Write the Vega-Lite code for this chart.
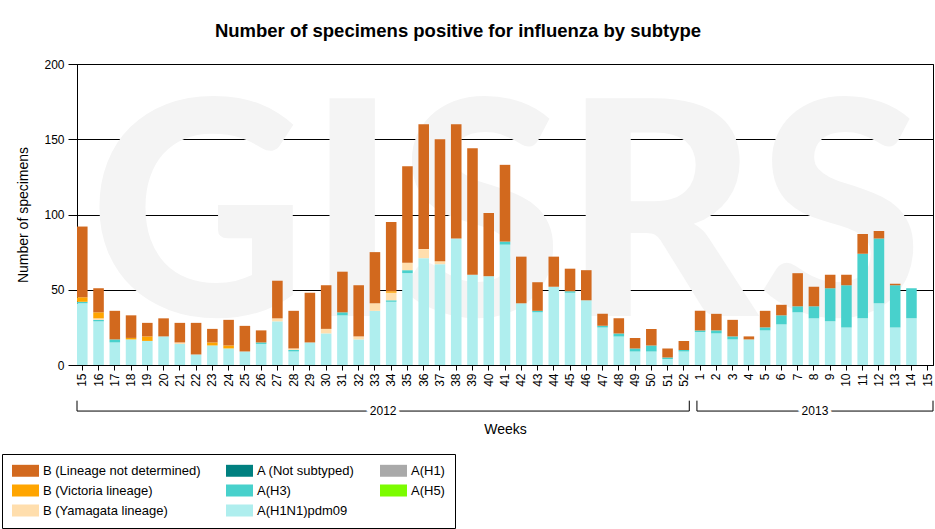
{
  "$schema": "https://vega.github.io/schema/vega-lite/v6.json",
  "autosize": "none",
  "padding": {"left": 77, "top": 64, "right": 2, "bottom": 164},
  "width": 856,
  "height": 301,
  "title": {
    "text": "Number of specimens positive for influenza by subtype",
    "font": "Arial, Liberation Sans",
    "fontSize": 18.5,
    "fontWeight": "bold",
    "color": "black",
    "baseline": "alphabetic",
    "offset": 2.5,
    "dx": -47
  },
  "config": {
    "font": "Arial, Liberation Sans",
    "view": {"stroke": "black", "strokeWidth": 1},
    "axis": {
      "labelColor": "black",
      "tickColor": "black",
      "domainColor": "black",
      "titleColor": "black",
      "titleFontWeight": "normal",
      "labelFontSize": 12
    }
  },
  "datasets": {
    "weeks": [
      {"wk": "2012-15", "a_pdm": 41, "b_h3": 1, "c_yam": 0, "d_vic": 3, "e_nd": 47},
      {"wk": "2012-16", "a_pdm": 29, "b_h3": 1, "c_yam": 1, "d_vic": 4, "e_nd": 16},
      {"wk": "2012-17", "a_pdm": 15, "b_h3": 2, "c_yam": 0, "d_vic": 0, "e_nd": 19},
      {"wk": "2012-18", "a_pdm": 17, "b_h3": 0, "c_yam": 0, "d_vic": 1, "e_nd": 15},
      {"wk": "2012-19", "a_pdm": 16, "b_h3": 0, "c_yam": 0, "d_vic": 3, "e_nd": 9},
      {"wk": "2012-20", "a_pdm": 19, "b_h3": 0, "c_yam": 0, "d_vic": 0, "e_nd": 12},
      {"wk": "2012-21", "a_pdm": 14, "b_h3": 0, "c_yam": 1, "d_vic": 0, "e_nd": 13},
      {"wk": "2012-22", "a_pdm": 7, "b_h3": 0, "c_yam": 0, "d_vic": 0, "e_nd": 21},
      {"wk": "2012-23", "a_pdm": 13, "b_h3": 0, "c_yam": 0, "d_vic": 2, "e_nd": 9},
      {"wk": "2012-24", "a_pdm": 11, "b_h3": 0, "c_yam": 0, "d_vic": 2, "e_nd": 17},
      {"wk": "2012-25", "a_pdm": 9, "b_h3": 0, "c_yam": 0, "d_vic": 0, "e_nd": 17},
      {"wk": "2012-26", "a_pdm": 14, "b_h3": 1, "c_yam": 0, "d_vic": 0, "e_nd": 8},
      {"wk": "2012-27", "a_pdm": 29, "b_h3": 0, "c_yam": 2, "d_vic": 0, "e_nd": 25},
      {"wk": "2012-28", "a_pdm": 9, "b_h3": 1, "c_yam": 1, "d_vic": 0, "e_nd": 25},
      {"wk": "2012-29", "a_pdm": 15, "b_h3": 0, "c_yam": 0, "d_vic": 0, "e_nd": 33},
      {"wk": "2012-30", "a_pdm": 21, "b_h3": 0, "c_yam": 3, "d_vic": 0, "e_nd": 29},
      {"wk": "2012-31", "a_pdm": 33, "b_h3": 2, "c_yam": 0, "d_vic": 0, "e_nd": 27},
      {"wk": "2012-32", "a_pdm": 17, "b_h3": 0, "c_yam": 2, "d_vic": 0, "e_nd": 34},
      {"wk": "2012-33", "a_pdm": 36, "b_h3": 0, "c_yam": 5, "d_vic": 0, "e_nd": 34},
      {"wk": "2012-34", "a_pdm": 42, "b_h3": 1, "c_yam": 5, "d_vic": 1, "e_nd": 46},
      {"wk": "2012-35", "a_pdm": 61, "b_h3": 2, "c_yam": 5, "d_vic": 0, "e_nd": 64},
      {"wk": "2012-36", "a_pdm": 71, "b_h3": 0, "c_yam": 6, "d_vic": 0, "e_nd": 83},
      {"wk": "2012-37", "a_pdm": 67, "b_h3": 0, "c_yam": 2, "d_vic": 0, "e_nd": 81},
      {"wk": "2012-38", "a_pdm": 84, "b_h3": 0, "c_yam": 0, "d_vic": 0, "e_nd": 76},
      {"wk": "2012-39", "a_pdm": 60, "b_h3": 0, "c_yam": 0, "d_vic": 0, "e_nd": 84},
      {"wk": "2012-40", "a_pdm": 59, "b_h3": 0, "c_yam": 0, "d_vic": 0, "e_nd": 42},
      {"wk": "2012-41", "a_pdm": 80, "b_h3": 2, "c_yam": 0, "d_vic": 0, "e_nd": 51},
      {"wk": "2012-42", "a_pdm": 41, "b_h3": 0, "c_yam": 0, "d_vic": 0, "e_nd": 31},
      {"wk": "2012-43", "a_pdm": 35, "b_h3": 1, "c_yam": 0, "d_vic": 0, "e_nd": 19},
      {"wk": "2012-44", "a_pdm": 52, "b_h3": 0, "c_yam": 0, "d_vic": 0, "e_nd": 20},
      {"wk": "2012-45", "a_pdm": 48, "b_h3": 1, "c_yam": 0, "d_vic": 0, "e_nd": 15},
      {"wk": "2012-46", "a_pdm": 43, "b_h3": 0, "c_yam": 0, "d_vic": 0, "e_nd": 20},
      {"wk": "2012-47", "a_pdm": 25, "b_h3": 1, "c_yam": 0, "d_vic": 0, "e_nd": 8},
      {"wk": "2012-48", "a_pdm": 19, "b_h3": 2, "c_yam": 0, "d_vic": 0, "e_nd": 10},
      {"wk": "2012-49", "a_pdm": 9, "b_h3": 2, "c_yam": 0, "d_vic": 0, "e_nd": 7},
      {"wk": "2012-50", "a_pdm": 9, "b_h3": 4, "c_yam": 0, "d_vic": 0, "e_nd": 11},
      {"wk": "2012-51", "a_pdm": 4, "b_h3": 1, "c_yam": 0, "d_vic": 0, "e_nd": 6},
      {"wk": "2012-52", "a_pdm": 9, "b_h3": 1, "c_yam": 0, "d_vic": 0, "e_nd": 6},
      {"wk": "2013-01", "a_pdm": 22, "b_h3": 1, "c_yam": 0, "d_vic": 0, "e_nd": 13},
      {"wk": "2013-02", "a_pdm": 21, "b_h3": 2, "c_yam": 0, "d_vic": 0, "e_nd": 11},
      {"wk": "2013-03", "a_pdm": 17, "b_h3": 2, "c_yam": 0, "d_vic": 0, "e_nd": 11},
      {"wk": "2013-04", "a_pdm": 17, "b_h3": 0, "c_yam": 0, "d_vic": 0, "e_nd": 2},
      {"wk": "2013-05", "a_pdm": 23, "b_h3": 2, "c_yam": 0, "d_vic": 0, "e_nd": 11},
      {"wk": "2013-06", "a_pdm": 27, "b_h3": 6, "c_yam": 0, "d_vic": 0, "e_nd": 7},
      {"wk": "2013-07", "a_pdm": 35, "b_h3": 4, "c_yam": 0, "d_vic": 0, "e_nd": 22},
      {"wk": "2013-08", "a_pdm": 31, "b_h3": 8, "c_yam": 0, "d_vic": 0, "e_nd": 13},
      {"wk": "2013-09", "a_pdm": 29, "b_h3": 22, "c_yam": 0, "d_vic": 0, "e_nd": 9},
      {"wk": "2013-10", "a_pdm": 25, "b_h3": 28, "c_yam": 0, "d_vic": 0, "e_nd": 7},
      {"wk": "2013-11", "a_pdm": 31, "b_h3": 43, "c_yam": 0, "d_vic": 0, "e_nd": 13},
      {"wk": "2013-12", "a_pdm": 41, "b_h3": 43, "c_yam": 0, "d_vic": 0, "e_nd": 5},
      {"wk": "2013-13", "a_pdm": 25, "b_h3": 28, "c_yam": 0, "d_vic": 0, "e_nd": 1},
      {"wk": "2013-14", "a_pdm": 31, "b_h3": 20, "c_yam": 0, "d_vic": 0, "e_nd": 0},
      {"wk": "2013-15", "a_pdm": 0, "b_h3": 0, "c_yam": 0, "d_vic": 0, "e_nd": 0}
    ],
    "years": [
      {"year": "2012", "start": 0, "end": 37.66, "mid": 18.83},
      {"year": "2013", "start": 38.13, "end": 52.65, "mid": 45.39}
    ]
  },
  "layer": [
    {
      "data": {"values": [{"word": "GISRS"}]},
      "mark": {
        "type": "text",
        "font": "Lato",
        "fontWeight": 900,
        "fontSize": 300,
        "color": "#f4f4f4",
        "align": "center",
        "baseline": "alphabetic"
      },
      "encoding": {
        "text": {"field": "word"},
        "x": {"datum": 26.4, "type": "quantitative", "scale": {"domain": [0, 52.65], "nice": false, "zero": false}, "axis": null},
        "y": {"datum": 32.6, "type": "quantitative", "scale": {"domain": [0, 200], "nice": false}, "axis": null}
      }
    },
    {
      "data": {"name": "weeks"},
      "transform": [{"fold": ["a_pdm", "b_h3", "c_yam", "d_vic", "e_nd"], "as": ["sub", "n"]}],
      "mark": {"type": "bar"},
      "encoding": {
        "x": {
          "field": "wk",
          "type": "nominal",
          "scale": {"paddingInner": 0.35, "paddingOuter": 0},
          "axis": {
            "orient": "bottom",
            "title": "Weeks",
            "titleFontSize": 14,
            "titlePadding": 36,
            "labelAngle": 270,
            "labelAlign": "right",
            "labelBaseline": "middle",
            "labelPadding": 3,
            "labelOverlap": false,
            "tickSize": 5,
            "labelExpr": "parseInt(slice(datum.value, 5))"
          }
        },
        "y": {
          "field": "n",
          "type": "quantitative",
          "stack": "zero",
          "scale": {"domain": [0, 200], "nice": false},
          "axis": {
            "orient": "left",
            "title": "Number of specimens",
            "titleFontSize": 14,
            "titlePadding": 13,
            "values": [0, 50, 100, 150, 200],
            "grid": true,
            "gridColor": "black",
            "gridOpacity": 1,
            "tickSize": 9,
            "labelPadding": 4
          }
        },
        "color": {
          "field": "sub",
          "type": "nominal",
          "scale": {
            "domain": ["e_nd", "x_ns", "y_h1", "d_vic", "b_h3", "z_h5", "c_yam", "a_pdm"],
            "range": ["#d2691e", "#008080", "#a9a9a9", "#ffa500", "#48d1cc", "#7cfc00", "#ffdead", "#afeeee"]
          },
          "legend": {
            "orient": "none",
            "legendX": -75,
            "legendY": 390,
            "columns": 3,
            "direction": "horizontal",
            "title": null,
            "symbolType": "M-1,-0.444H1V0.444H-1Z",
            "symbolSize": 729,
            "symbolStrokeWidth": 0,
            "symbolOpacity": 1,
            "labelFont": "Arial, Liberation Sans",
            "labelFontSize": 13,
            "labelColor": "black",
            "labelLimit": 300,
            "labelOffset": 4,
            "clipHeight": 13,
            "rowPadding": 6,
            "columnPadding": 25,
            "padding": 10,
            "strokeColor": "black",
            "fillColor": "white",
            "labelExpr": "{'e_nd': 'B (Lineage not determined)', 'd_vic': 'B (Victoria lineage)', 'c_yam': 'B (Yamagata lineage)', 'x_ns': 'A (Not subtyped)', 'b_h3': 'A(H3)', 'a_pdm': 'A(H1N1)pdm09', 'y_h1': 'A(H1)', 'z_h5': 'A(H5)'}[datum.value]"
          }
        },
        "order": {"field": "sub", "type": "nominal", "sort": "ascending"}
      }
    },
    {
      "data": {"name": "years"},
      "layer": [
        {
          "mark": {"type": "rule", "color": "black", "strokeWidth": 1},
          "encoding": {
            "x": {"field": "start", "type": "quantitative", "scale": {"domain": [0, 52.65], "nice": false, "zero": false}, "axis": null},
            "x2": {"field": "end"},
            "y": {"datum": -30.6, "type": "quantitative", "scale": {"domain": [0, 200], "nice": false}, "axis": null}
          }
        },
        {
          "transform": [{"fold": ["start", "end"], "as": ["edge", "pos"]}],
          "mark": {"type": "rule", "color": "black", "strokeWidth": 1},
          "encoding": {
            "x": {"field": "pos", "type": "quantitative", "scale": {"domain": [0, 52.65], "nice": false, "zero": false}, "axis": null},
            "y": {"datum": -23.7, "type": "quantitative", "scale": {"domain": [0, 200], "nice": false}, "axis": null},
            "y2": {"datum": -30.6}
          }
        },
        {
          "mark": {"type": "text", "fontSize": 12, "color": "white", "stroke": "white", "strokeWidth": 7, "baseline": "middle", "align": "center"},
          "encoding": {
            "x": {"field": "mid", "type": "quantitative", "scale": {"domain": [0, 52.65], "nice": false, "zero": false}, "axis": null},
            "y": {"datum": -30.6, "type": "quantitative", "scale": {"domain": [0, 200], "nice": false}, "axis": null},
            "text": {"field": "year"}
          }
        },
        {
          "mark": {"type": "text", "fontSize": 12, "color": "black", "baseline": "middle", "align": "center"},
          "encoding": {
            "x": {"field": "mid", "type": "quantitative", "scale": {"domain": [0, 52.65], "nice": false, "zero": false}, "axis": null},
            "y": {"datum": -30.6, "type": "quantitative", "scale": {"domain": [0, 200], "nice": false}, "axis": null},
            "text": {"field": "year"}
          }
        }
      ]
    }
  ],
  "resolve": {"scale": {"x": "independent"}, "axis": {"y": "independent"}}
}
